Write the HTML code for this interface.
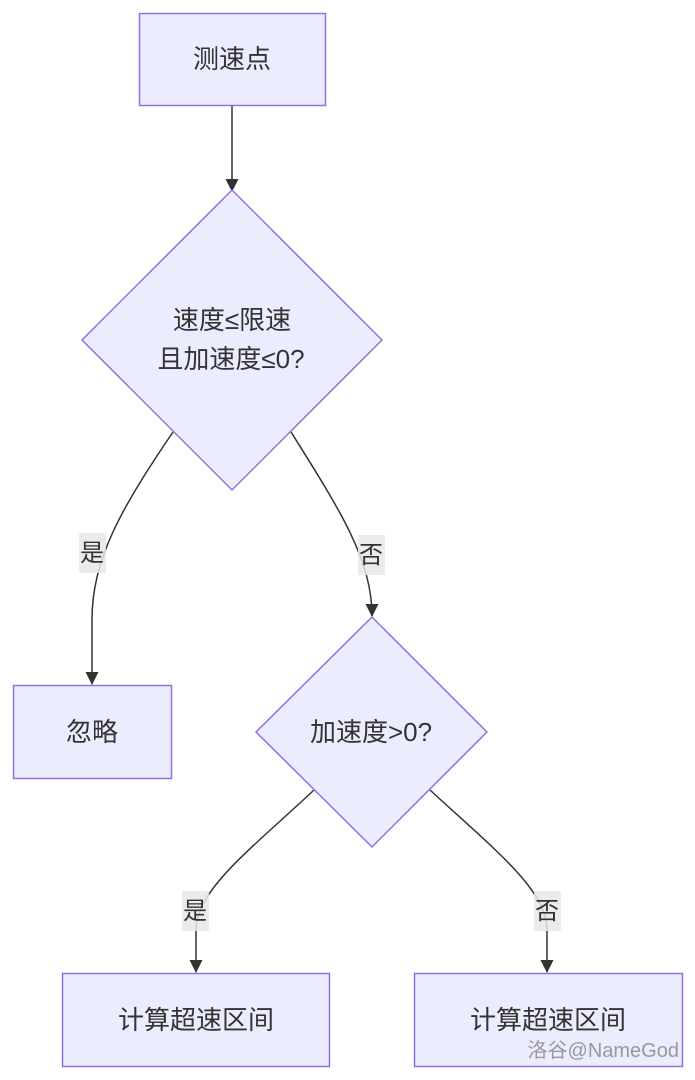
<!DOCTYPE html>
<html><head><meta charset="utf-8"><style>
html,body{margin:0;padding:0;background:#fff;}
svg{display:block;}
text{font-family:"Liberation Sans","Noto Sans CJK SC",sans-serif;fill:#333;}
</style></head><body>
<svg width="695" height="1080" viewBox="0 0 695 1080" xmlns="http://www.w3.org/2000/svg">
<defs><marker id="a" markerWidth="14" markerHeight="14" refX="12" refY="6.5" orient="auto" markerUnits="userSpaceOnUse"><path d="M0,0 L13,6.5 L0,13 z" fill="#333"/></marker></defs>
<g fill="none" stroke="#333" stroke-width="1.5" marker-end="url(#a)">
<path d="M232,105 L232,191"/>
<path d="M173,432 C120,510 92,560 92,620 L92,684"/>
<path d="M291,432 C340,510 372,560 372,616"/>
<path d="M314,790 C250,850 196,890 196,930 L196,972"/>
<path d="M430,790 C495,850 547,890 547,930 L547,972"/>
</g>
<g fill="#ECECFF" stroke="#9370DB" stroke-width="1.5">
<rect x="139.5" y="13.5" width="186" height="92"/>
<polygon points="232,190 382,340 232,490 82,340"/>
<rect x="13.5" y="685.5" width="158" height="93"/>
<polygon points="372,617 487,732 372,847 256,732"/>
<rect x="62.5" y="973.5" width="267" height="93"/>
<rect x="414.5" y="973.5" width="268" height="93"/>
</g>
<g fill="#e8e8e8" opacity="0.85">
<rect x="79" y="533" width="27" height="40"/>
<rect x="358" y="535" width="27" height="40"/>
<rect x="182" y="891" width="27" height="40"/>
<rect x="534" y="891" width="27" height="40"/>
</g>
<g font-size="26" text-anchor="middle">
<text x="232" y="68">测速点</text>
<text x="232" y="329">速度≤限速</text>
<text x="231" y="368">且加速度≤0?</text>
<text x="92" y="741">忽略</text>
<text x="371" y="741">加速度&gt;0?</text>
<text x="196" y="1029">计算超速区间</text>
<text x="548" y="1029">计算超速区间</text>
</g>
<g font-size="24" text-anchor="middle">
<text x="92" y="561">是</text>
<text x="371" y="563">否</text>
<text x="195" y="919">是</text>
<text x="547" y="919">否</text>
</g>
<text x="679" y="1057" font-size="20" text-anchor="end" style="fill:#999">洛谷@NameGod</text>
</svg>
</body></html>
